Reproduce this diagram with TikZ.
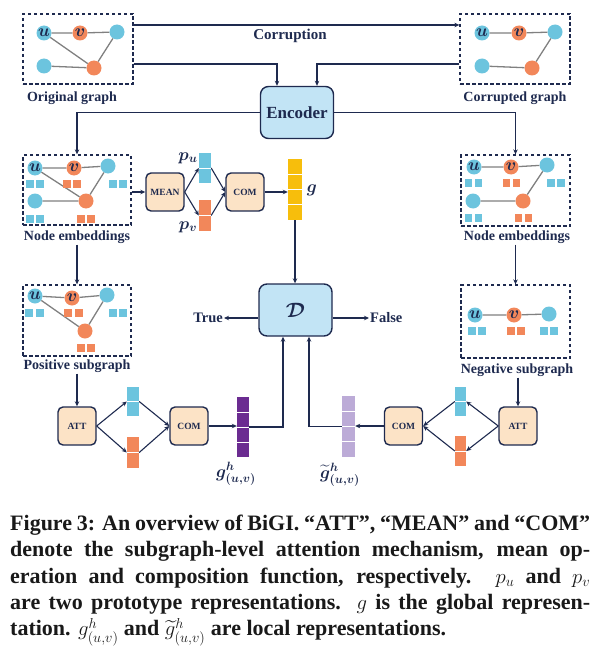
\documentclass[tikz,border=0pt]{standalone}
\usepackage{amsmath,bm}
\usepackage{fontspec}
\setmainfont{Liberation Serif}
\usetikzlibrary{arrows.meta,calc}

\definecolor{navy}{HTML}{1E2A4F}
\definecolor{nblue}{HTML}{6CC4DE}
\definecolor{norange}{HTML}{F2875A}
\definecolor{peach}{HTML}{FCE3C6}
\definecolor{skyfill}{HTML}{C2E4F5}
\definecolor{gold}{HTML}{F7BE0C}
\definecolor{grape}{HTML}{6B2C91}
\definecolor{lilac}{HTML}{BCABD7}
\definecolor{edgegray}{HTML}{808080}

\tikzset{
    arr/.style={draw=navy, line width=1.1pt, -{Stealth[length=5pt,width=4.5pt]}},
    link/.style={draw=edgegray, line width=1.3pt},
    frame/.style={draw=navy, line width=1.3pt, dash pattern=on 3.5pt off 2.5pt, inner sep=0},
    gb/.style={circle, fill=nblue, minimum size=15pt, inner sep=0, text=navy, font=\fontsize{16}{16}\selectfont},
    go/.style={gb, fill=norange},
    sq/.style={minimum size=7.5pt, inner sep=0, fill=#1},
    op/.style={draw=navy, line width=1.4pt, rounded corners=5pt, fill=peach, minimum width=38pt, minimum height=38pt, inner sep=0, text=navy, font=\bfseries\fontsize{9.5}{10}\selectfont},
    big/.style={op, fill=skyfill, minimum width=73pt, minimum height=52pt, rounded corners=8pt},
    vec/.style={fill=#1, minimum width=12pt, inner sep=0},
    lbl/.style={text=navy, inner sep=1pt, font=\bfseries\fontsize{14}{14}\selectfont},
    sym/.style={text=navy, inner sep=0, font=\fontsize{17}{17}\selectfont},
}

\begin{document}
\begin{tikzpicture}[x=1pt,y=-1pt]
    \useasboundingbox (0,0) rectangle (600,658);

    % original and corrupted graph
    \node[frame, minimum width=110pt, minimum height=70pt] (obox) at (78,49) {};
    \node[gb] (ou) at (44,33) {$\bm u$};
    \node[go] (ov) at (80,33) {$\bm v$};
    \node[gb] (ot) at (117,32) {};
    \node[gb] (ol) at (44,66) {};
    \node[go] (ob) at (94,68) {};
    \draw[link] (ou) -- (ov) -- (ot) (ou) -- (ob) (ol) -- (ob) -- (ot);
    \node[lbl] (olbl) at (72,98) {Original graph};

    \node[frame, minimum width=110pt, minimum height=70pt] (cbox) at (515,49) {};
    \node[gb] (cu) at (482,33) {$\bm u$};
    \node[go] (cv) at (519,33) {$\bm v$};
    \node[gb] (ct) at (555,32) {};
    \node[gb] (cl) at (482,66) {};
    \node[go] (cb) at (532,68) {};
    \draw[link] (cu) -- (cv) -- (ct) (cl) -- (cb) -- (ct);
    \node[lbl] (clbl) at (515,98) {Corrupted graph};

    \node[big, font=\bfseries\fontsize{17}{17}\selectfont] (enc) at (297,112.5) {Encoder};

    \draw[arr] (obox.east |- 0,25) -- node[pos=0.48, below=3pt, lbl, font=\bfseries\fontsize{15}{15}\selectfont] {Corruption} (cbox.west |- 0,25);
    \draw[arr] (obox.east |- 0,64) -| ([xshift=-20pt]enc.north);
    \draw[arr] (cbox.west |- 0,64) -| ([xshift=20pt]enc.north);

    % node embeddings
    \node[frame, minimum width=108pt, minimum height=70pt] (lebox) at (77,190) {};
    \node[gb] (lu) at (35,168) {$\bm u$};
    \node[go] (lv) at (74,168) {$\bm v$};
    \node[gb] (lt) at (108,166) {};
    \node[gb] (ll) at (35,201) {};
    \node[go] (lb) at (86,201) {};
    \draw[link] (lu) -- (lv) -- (lt) (lu) -- (lb) (ll) -- (lb) -- (lt);
    \foreach \x/\y/\c in {30/184/nblue,40/184/nblue,67/184/norange,77/184/norange,113/184/nblue,123/184/nblue,30/219/nblue,40/219/nblue,81/219/norange,91/219/norange}
        \node[sq=\c] at (\x,\y) {};
    \node[lbl] (lelbl) at (77,237) {Node embeddings};

    \node[frame, minimum width=109pt, minimum height=71pt] (rebox) at (515.5,190.5) {};
    \node[gb] (ru) at (474,167) {$\bm u$};
    \node[go] (rv) at (511,167) {$\bm v$};
    \node[gb] (rt) at (547,165) {};
    \node[gb] (rl) at (473,201) {};
    \node[go] (rb) at (523,201) {};
    \draw[link] (ru) -- (rv) -- (rt) (rl) -- (rb) -- (rt);
    \foreach \x/\y/\c in {468.5/183/nblue,478.5/183/nblue,506.5/183/norange,516.5/183/norange,551/183/nblue,561/183/nblue,468.5/218/nblue,478.5/218/nblue,518.5/218/norange,528.5/218/norange}
        \node[sq=\c] at (\x,\y) {};
    \node[lbl] (relbl) at (517,237) {Node embeddings};

    \draw[arr] (enc.west) -| (lebox.north);
    \draw[arr] (enc.east) -| (rebox.north);

    % global branch
    \node[op] (mean) at (165,192) {MEAN};
    \node[op] (com) at (245,192) {COM};
    \node[vec=nblue, minimum height=30pt] (pu) at (205,168) {};
    \node[vec=norange, minimum height=31pt] (pv) at (205,215.5) {};
    \node[vec=gold, minimum width=14pt, minimum height=61pt] (g) at (295,189.5) {};
    \node[sym] at (188,158) {$\bm{p_u}$};
    \node[sym] at (188,227) {$\bm{p_v}$};
    \node[sym] at (312,190) {$\bm g$};
    \draw[arr] (mean.west -| lebox.east) -- (mean.west);
    \draw[arr] (mean.east) -- (pu.west);
    \draw[arr] (mean.east) -- (pv.west);
    \draw[arr] (pu.east) -- (com.west);
    \draw[arr] (pv.east) -- (com.west);
    \draw[arr] (com.east) -- (com.east -| g.west);

    % discriminator
    \node[big, font=\fontsize{22}{22}\selectfont] (d) at (295.5,310) {$\bm{\mathcal{D}}$};
    \node[lbl, anchor=east, font=\bfseries\fontsize{14.5}{14.5}\selectfont] (tru) at (224,318) {True};
    \node[lbl, anchor=west, font=\bfseries\fontsize{14.5}{14.5}\selectfont] (fal) at (369,318) {False};
    \draw[arr] (g.south) -- (g.south |- d.north);
    \draw[arr] (d.west |- tru) -- (tru.east);
    \draw[arr] (d.east |- fal) -- (fal.west);

    % positive and negative subgraph
    \node[frame, minimum width=108pt, minimum height=71pt] (psbox) at (77,320.5) {};
    \node[gb] (pu1) at (35,296) {$\bm u$};
    \node[go] (pv1) at (72,298) {$\bm v$};
    \node[gb] (pt1) at (107,295) {};
    \node[go] (pb1) at (85,331) {};
    \draw[link] (pu1) -- (pv1) -- (pt1) (pu1) -- (pb1) -- (pt1);
    \foreach \x/\y/\c in {29/313/nblue,40/313/nblue,68/313/norange,79/313/norange,113/313/nblue,123/313/nblue,81/348/norange,91/348/norange}
        \node[sq=\c] at (\x,\y) {};
    \node[lbl] (pslbl) at (77,366) {Positive subgraph};

    \node[frame, minimum width=109pt, minimum height=73pt] (nsbox) at (515.5,321.5) {};
    \node[gb] (nu1) at (475,315) {$\bm u$};
    \node[go] (nv1) at (514,315) {$\bm v$};
    \node[gb] (nt1) at (549,314) {};
    \draw[link] (nu1) -- (nv1) -- (nt1);
    \foreach \x/\y/\c in {472/331/nblue,482/331/nblue,511/331/norange,521/331/norange,544/331/nblue,554/331/nblue}
        \node[sq=\c] at (\x,\y) {};
    \node[lbl] (nslbl) at (517,370) {Negative subgraph};

    \draw[arr] (lelbl.south) -- (psbox.north);
    \draw[arr] (relbl.south -| nsbox.north) -- (nsbox.north);

    % local branches
    \node[op] (attl) at (77,426) {ATT};
    \node[op] (coml) at (189,426) {COM};
    \node[vec=nblue, minimum height=29pt] (lbv) at (133,401.5) {};
    \node[vec=norange, minimum height=31pt] (lov) at (133,452.5) {};
    \node[vec=grape, minimum height=60pt] (gh) at (243,427) {};
    \node[sym] at (236,474) {$\bm{g}^{\bm h}_{\bm{(u,v)}}$};

    \node[op] (attr) at (518,426) {ATT};
    \node[op] (comr) at (403.5,426) {COM};
    \node[vec=nblue, minimum width=11pt, minimum height=29pt] (rbv) at (460.5,401.5) {};
    \node[vec=norange, minimum width=11pt, minimum height=30pt] (rov) at (460.5,451) {};
    \node[vec=lilac, minimum width=13pt, minimum height=61pt] (gt) at (348.5,426.5) {};
    \node[sym] at (340,475) {$\widetilde{\bm{g}}^{\bm h}_{\bm{(u,v)}}$};

    \foreach \v/\n in {pu/2,pv/2,g/4,lbv/2,lov/2,gh/4,rbv/2,rov/2,gt/4}{
        \pgfmathtruncatemacro\m{\n-1}
        \foreach \k in {1,...,\m}
            \draw[white, line width=0.8pt] ($(\v.north west)!\k/\n!(\v.south west)$) -- ($(\v.north east)!\k/\n!(\v.south east)$);
    }

    \draw[arr] (pslbl.south) -- (attl.north);
    \draw[arr] (nslbl.south -| attr.north) -- (attr.north);
    \draw[arr] (attl.east) -- (lbv.west);
    \draw[arr] (attl.east) -- (lov.west);
    \draw[arr] (lbv.east) -- (coml.west);
    \draw[arr] (lov.east) -- (coml.west);
    \draw[arr] (coml.east) -- (coml.east -| gh.west);
    \draw[arr] (gh.east) -| ([xshift=-12.5pt]d.south);
    \draw[arr] (attr.west) -- (rbv.east);
    \draw[arr] (attr.west) -- (rov.east);
    \draw[arr] (rbv.west) -- (comr.east);
    \draw[arr] (rov.west) -- (comr.east);
    \draw[arr] (comr.west) -- (comr.west -| gt.east);
    \draw[arr] (gt.west) -| ([xshift=13.5pt]d.south);

    % caption
    \node[anchor=north west, text width=580pt, align=justify, inner sep=0, text=black!90, font=\bfseries\fontsize{22}{26.3}\selectfont] (cap) at (10,515) {Figure 3: An overview of BiGI. “ATT”, “MEAN” and “COM”\linebreak denote the subgraph-level attention mechanism, mean op-\linebreak eration and composition function, respectively. $p_u$ and $p_v$\linebreak are two prototype representations. $g$ is the global represen-\linebreak tation. $g^h_{(u,v)}$ and $\widetilde{g}^h_{(u,v)}$ are local representations.};
\end{tikzpicture}
\end{document}
